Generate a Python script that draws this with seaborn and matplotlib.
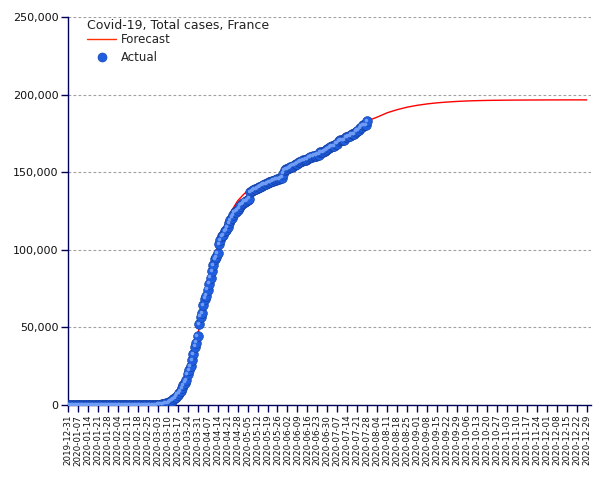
import numpy as np
import pandas as pd
import matplotlib
matplotlib.use("Agg")
import matplotlib.pyplot as plt
import matplotlib.dates as mdates
import matplotlib.transforms as mtrans
from matplotlib.lines import Line2D
import seaborn as sns

# ---------------- data ----------------
actual_start = "2019-12-31"
actual_dec_jan = [0] * 24 + [2, 3, 3, 3, 4, 5, 5, 6]          # Dec 31 .. Jan 31
actual_feb = [6] * 7 + [11] * 8 + [12] * 10 + [14, 18, 38, 57]  # Feb 1 .. Feb 29
actual_mar = [100, 130, 191, 212, 285, 423, 613, 949, 1126, 1412, 1784, 2281,
              2876, 3661, 4499, 5423, 6633, 7730, 9134, 10995, 12612, 14459,
              16018, 19856, 22302, 25233, 29155, 32964, 37575, 40174, 44550]
actual_apr = [52128, 56989, 59105, 64338, 68605, 70478, 74390, 78167, 82048,
              86334, 90276, 93790, 95403, 98076, 103573, 106206, 108847,
              109252, 111821, 112606, 114657, 117324, 119151, 120804, 122577,
              124114, 124575, 125770, 127066, 128442]
actual_may = [129581, 130185, 130979, 131287, 131863, 132967, 137150, 137779,
              138421, 138854, 139063, 139519, 140227, 140734, 141356, 141919,
              142291, 142411, 142903, 143427, 143845, 144163, 144556, 144921,
              145279, 145555, 145746, 146122, 146476, 149071, 151325]
actual_jun = [151753, 152091, 152444, 153055, 153634, 154188, 154591, 155136,
              155561, 156287, 156813, 157220, 157716, 157716, 158174, 158641,
              159452, 159910, 160093, 160377, 160750, 160750, 161267, 161348,
              162936, 162936, 162936, 163760, 164260, 164801]
actual_jul = [165719, 166378, 166960, 166960, 166960, 168335, 168335, 170094,
              170752, 170752, 170752, 170752, 172377, 172377, 173304, 173304,
              174674, 174674, 174674, 176202, 176754, 177338, 178336, 179398,
              180528, 180528, 180528, 183079]
actual_values = (actual_dec_jan + actual_feb + actual_mar + actual_apr +
                 actual_may + actual_jun + actual_jul)
actual_dates = pd.date_range(actual_start, periods=len(actual_values), freq="D")

forecast_dates = pd.to_datetime([
    "2020-02-25", "2020-03-03", "2020-03-10", "2020-03-14", "2020-03-17",
    "2020-03-21", "2020-03-24", "2020-03-28", "2020-03-31", "2020-04-04",
    "2020-04-07", "2020-04-11", "2020-04-14", "2020-04-18", "2020-04-21",
    "2020-04-25", "2020-04-28", "2020-05-02", "2020-05-05", "2020-05-12",
    "2020-05-19", "2020-05-26", "2020-06-02", "2020-06-09", "2020-06-16",
    "2020-06-23", "2020-06-30", "2020-07-07", "2020-07-14", "2020-07-21",
    "2020-07-28", "2020-08-04", "2020-08-11", "2020-08-18", "2020-08-25",
    "2020-09-01", "2020-09-08", "2020-09-15", "2020-09-22", "2020-09-29",
    "2020-10-06", "2020-10-13", "2020-10-20", "2020-10-27", "2020-11-03",
    "2020-11-10", "2020-11-17", "2020-11-24", "2020-12-01", "2020-12-08",
    "2020-12-15", "2020-12-22", "2020-12-29"])
forecast_values = [
    0, 500, 2500, 4800, 8000,
    14000, 21000, 33000, 45000, 63000,
    76000, 91000, 102000, 113000, 120000,
    127000, 131500, 135500, 138000, 141500,
    144000, 147000, 151000, 154500, 158000,
    161500, 165000, 169000, 173000, 177000,
    183000, 185500, 188300, 190300, 191900,
    193100, 194000, 194700, 195200, 195600,
    195900, 196100, 196250, 196350, 196420,
    196470, 196510, 196540, 196560, 196580,
    196590, 196600, 196600]

tick_dates = pd.date_range("2019-12-31", "2020-12-29", freq="7D")
y_ticks = [0, 50000, 100000, 150000, 200000, 250000]

df_act = pd.DataFrame({"date": actual_dates, "cases": actual_values})
df_fc = pd.DataFrame({"date": forecast_dates, "cases": forecast_values})

# ---------------- plot ----------------
sns.set_style("white")
plt.rcParams["font.family"] = ["DejaVu Sans"]

navy = "#00005a"
blue = "#1f5ee0"
fig = plt.figure(figsize=(6.05, 4.8), dpi=100)
ax = fig.add_axes([68 / 605, 1 - 405 / 480, (591 - 68) / 605, (405 - 17) / 480])

sns.lineplot(data=df_fc, x="date", y="cases", ax=ax, color="#ff0000",
             linewidth=1.0, zorder=2)
sns.scatterplot(data=df_act, x="date", y="cases", ax=ax, s=50,
                color=blue, edgecolor="#123d9e", linewidth=0.4, zorder=3)
hl = mtrans.offset_copy(ax.transData, fig=fig, x=-0.9, y=0.9, units="points")
ax.scatter(df_act["date"], df_act["cases"], s=7, color="#6f9cf5",
           linewidths=0, transform=hl, zorder=4)

ax.set_xlim(pd.Timestamp("2019-12-31"), pd.Timestamp("2021-01-01"))
ax.set_ylim(0, 250000)
ax.set_xticks(tick_dates)
ax.set_xticklabels([d.strftime("%Y-%m-%d") for d in tick_dates],
                   rotation=90, fontsize=6.3, color="#111111")
ax.set_yticks(y_ticks)
ax.set_yticklabels([f"{v:,}" for v in y_ticks], fontsize=8, color="#111111")
ax.set_xlabel("")
ax.set_ylabel("")

ax.grid(axis="y", color="#a0a0a0", linestyle=(0, (2.5, 2)), linewidth=0.8)
ax.grid(axis="x", visible=False)
ax.set_axisbelow(True)
for side in ["top", "right"]:
    ax.spines[side].set_visible(False)
for side in ["left", "bottom"]:
    ax.spines[side].set_color(navy)
    ax.spines[side].set_linewidth(1.0)
ax.tick_params(axis="both", direction="out", length=5, width=1,
               color=navy, pad=2, bottom=True, left=True)

handles = [Line2D([0], [0], color="#ff3000", linewidth=1.0),
           Line2D([0], [0], marker="o", linestyle="none", markersize=6.5,
                  markerfacecolor=blue, markeredgecolor="#123d9e",
                  markeredgewidth=0.4)]
leg = ax.legend(handles, ["Forecast", "Actual"],
                title="Covid-19, Total cases, France",
                loc="upper left", bbox_to_anchor=(0.025, 1.011),
                frameon=False, fontsize=8.5, title_fontsize=9,
                handlelength=2.5, handletextpad=0.35, labelspacing=0.45,
                borderpad=0.0, alignment="left")
leg._legend_box.sep = 1
for t in leg.get_texts():
    t.set_color("#222222")
leg.get_title().set_color("#222222")

fig.savefig("out.png", dpi=100)
